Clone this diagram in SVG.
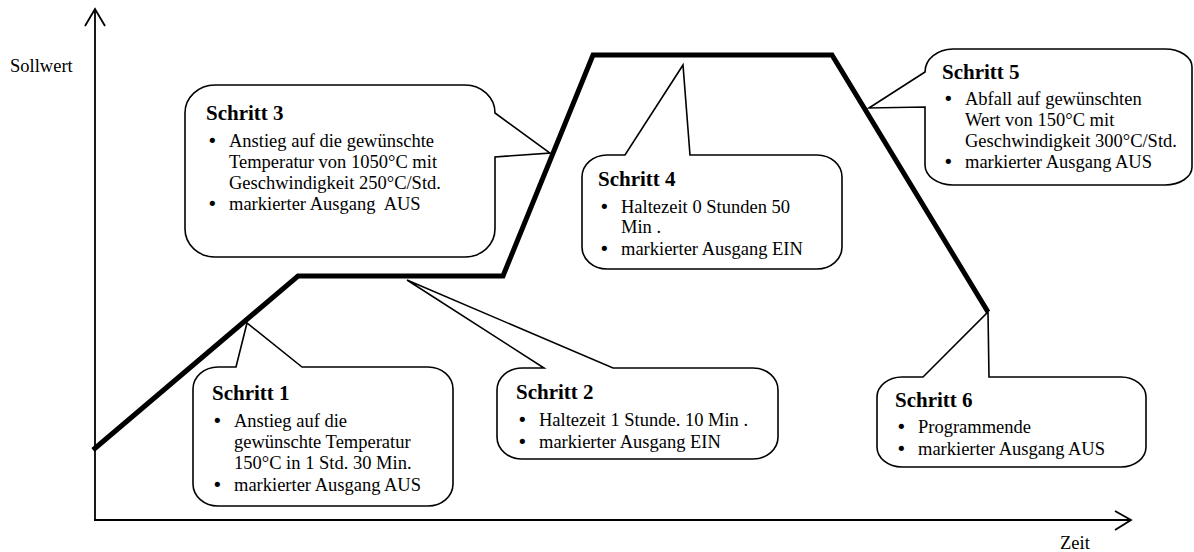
<svg xmlns="http://www.w3.org/2000/svg" width="1194" height="552" viewBox="0 0 1194 552">
<style>
text{font-family:"Liberation Serif","Times New Roman",serif;fill:#000}
.h{font-size:21px;font-weight:bold}
.t{font-size:18.5px}
.b{font-size:18px;font-family:"DejaVu Sans",sans-serif}
.call{fill:#fff;stroke:#000;stroke-width:1.6;stroke-linejoin:miter}
.ax{fill:none;stroke:#000;stroke-width:1.8}
.prof{fill:none;stroke:#000;stroke-width:5;stroke-linejoin:miter}
</style>
<rect width="1194" height="552" fill="#fff"/>
<g id="axes">
<line class="ax" x1="95" y1="9" x2="95" y2="521"/>
<line class="ax" x1="94" y1="520" x2="1131" y2="520"/>
<polyline class="ax" points="85,26 95,9 105,26"/>
<polyline class="ax" points="1115,511 1131,520 1115,530"/>
<text class="t" x="10" y="72">Sollwert</text>
<text class="t" x="1060" y="549">Zeit</text>
</g>
<g id="connectors">
<polyline class="prof" points="93,450 298,276 503,276 593,55 832,55 988,312"/>
</g>
<g id="schritt1">
<path class="call" d="M218,367 L236,367 L247,323 L302,367 L428,367 A25 22 0 0 1 453,389 L453,484 A25 22 0 0 1 428,506 L218,506 A25 22 0 0 1 193,484 L193,389 A25 22 0 0 1 218,367 Z"/>
<text class="h" x="212" y="400">Schritt 1</text>
<text class="b" x="212" y="427">•</text><text class="t" x="234" y="427">Anstieg auf die</text>
<text class="t" x="234" y="448">gewünschte Temperatur</text>
<text class="t" x="234" y="469">150°C in 1 Std. 30 Min.</text>
<text class="b" x="212" y="491">•</text><text class="t" x="234" y="491">markierter Ausgang AUS</text>
</g>
<g id="schritt2">
<path class="call" d="M522,368 L544,368 L407,280 L613,368 L753,368 A25 22 0 0 1 778,390 L778,437 A25 22 0 0 1 753,459 L522,459 A25 22 0 0 1 497,437 L497,390 A25 22 0 0 1 522,368 Z"/>
<text class="h" x="516" y="399">Schritt 2</text>
<text class="b" x="517" y="426">•</text><text class="t" x="539" y="426">Haltezeit 1 Stunde. 10 Min .</text>
<text class="b" x="517" y="448">•</text><text class="t" x="539" y="448">markierter Ausgang EIN</text>
</g>
<g id="schritt3">
<path class="call" d="M215,85 L465,85 A30 28 0 0 1 495,113 L550,153 L495,157 L495,229 A30 28 0 0 1 465,257 L215,257 A30 28 0 0 1 185,229 L185,113 A30 28 0 0 1 215,85 Z"/>
<text class="h" x="206" y="120">Schritt 3</text>
<text class="b" x="207" y="147">•</text><text class="t" x="229" y="147">Anstieg auf die gewünschte</text>
<text class="t" x="229" y="168">Temperatur von 1050°C mit</text>
<text class="t" x="229" y="189">Geschwindigkeit 250°C/Std.</text>
<text class="b" x="207" y="210">•</text><text class="t" x="229" y="210" xml:space="preserve">markierter Ausgang  AUS</text>
</g>
<g id="schritt4">
<path class="call" d="M607,155 L625,155 L683,65 L690,155 L817,155 A25 22 0 0 1 842,177 L842,247 A25 22 0 0 1 817,269 L607,269 A25 22 0 0 1 582,247 L582,177 A25 22 0 0 1 607,155 Z"/>
<text class="h" x="598" y="186">Schritt 4</text>
<text class="b" x="599" y="213">•</text><text class="t" x="621" y="213">Haltezeit 0 Stunden 50</text>
<text class="t" x="621" y="233">Min .</text>
<text class="b" x="599" y="255">•</text><text class="t" x="621" y="255">markierter Ausgang EIN</text>
</g>
<g id="schritt5">
<path class="call" d="M953,49 L1165,49 A27 18 0 0 1 1192,67 L1192,167 A27 18 0 0 1 1165,185 L953,185 A28 20 0 0 1 925,165 L925,107 L869,108 L925,72 A28 23 0 0 1 953,49 Z"/>
<text class="h" x="942" y="79">Schritt 5</text>
<text class="b" x="943" y="105">•</text><text class="t" x="965" y="105">Abfall auf gewünschten</text>
<text class="t" x="965" y="126">Wert von 150°C mit</text>
<text class="t" x="965" y="147">Geschwindigkeit 300°C/Std.</text>
<text class="b" x="943" y="168">•</text><text class="t" x="965" y="168">markierter Ausgang AUS</text>
</g>
<g id="schritt6">
<path class="call" d="M902,377 L923,377 L988,312 L989,377 L1121,377 A25 20 0 0 1 1146,397 L1146,447 A25 20 0 0 1 1121,467 L902,467 A25 20 0 0 1 877,447 L877,397 A25 20 0 0 1 902,377 Z"/>
<text class="h" x="895" y="407">Schritt 6</text>
<text class="b" x="896" y="433">•</text><text class="t" x="918" y="433">Programmende</text>
<text class="b" x="896" y="455">•</text><text class="t" x="918" y="455">markierter Ausgang AUS</text>
</g>
</svg>
